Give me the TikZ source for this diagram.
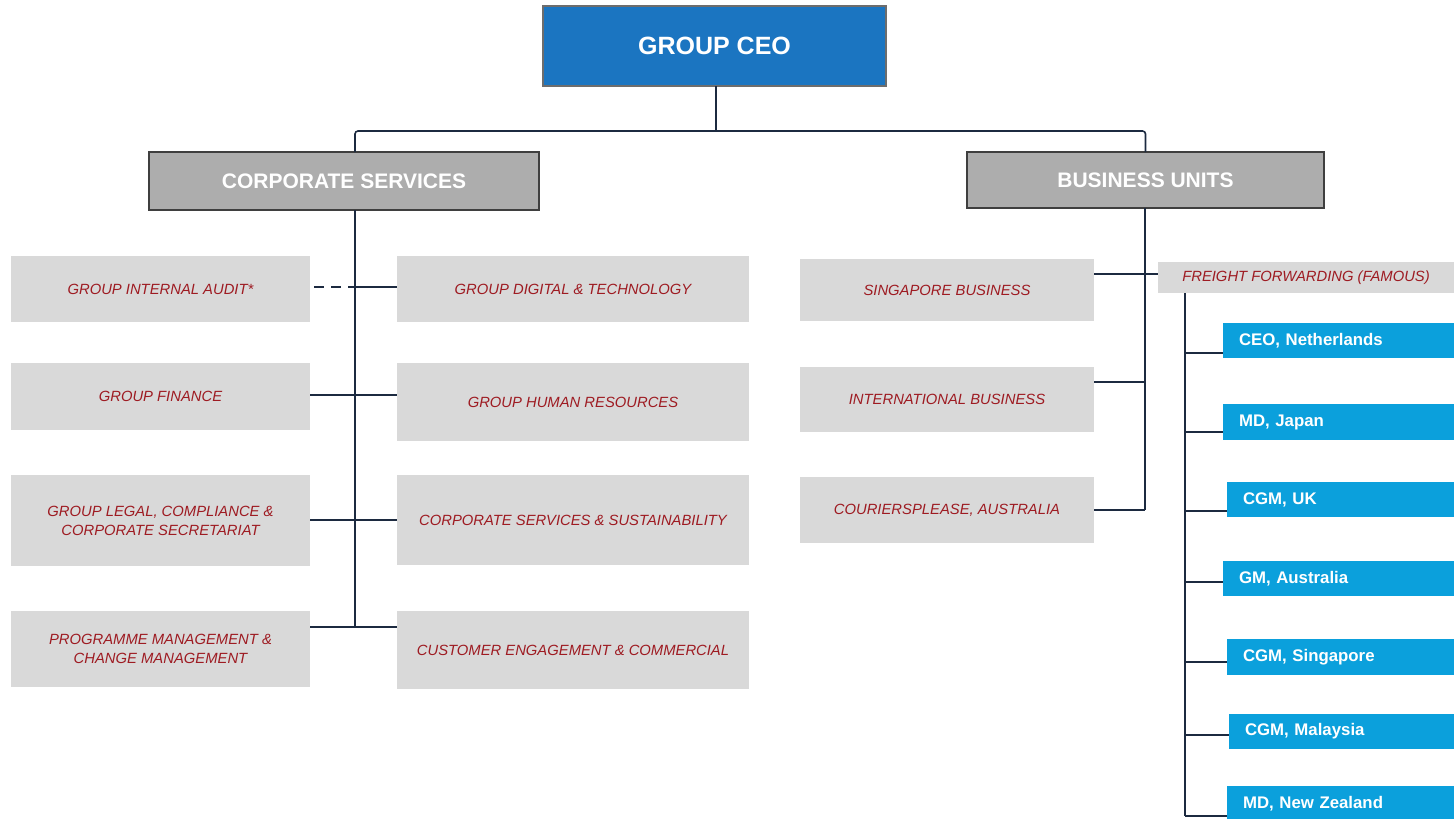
\documentclass[tikz,border=0pt]{standalone}
\usepackage{fontspec}
\setmainfont{Liberation Sans}
\definecolor{ceoblue}{HTML}{1B75C1}
\definecolor{ceoborder}{HTML}{6D6D6D}
\definecolor{headgray}{HTML}{ADADAD}
\definecolor{headborder}{HTML}{3F3F3F}
\definecolor{subgray}{HTML}{D9D9D9}
\definecolor{subred}{HTML}{9E1B22}
\definecolor{leafblue}{HTML}{0BA0DC}
\definecolor{linecol}{HTML}{1C2A40}
\begin{document}
\begin{tikzpicture}[x=1pt,y=-1pt,
  box/.style={inner sep=0pt, outer sep=0pt, align=center},
  ceobox/.style={box, fill=ceoblue, draw=ceoborder, line width=1.3pt, text=white, font=\fontsize{25}{28}\selectfont\bfseries},
  head/.style={box, fill=headgray, draw=headborder, line width=1.3pt, text=white, font=\fontsize{21}{24}\selectfont\bfseries},
  sub/.style={box, fill=subgray, text=subred, font=\fontsize{14.8}{19}\selectfont\itshape},
  leaf/.style={box, fill=leafblue, text=white, inner xsep=16pt, align=left, font=\fontsize{16.8}{19}\selectfont\bfseries},
  link/.style={draw=linecol, line width=1.6pt},
  dashlink/.style={draw=linecol, line width=1.6pt, dash pattern=on 10pt off 7pt}
]
\useasboundingbox (0,0) rectangle (1454,819);

% top levels
\node[ceobox, minimum width=343pt, minimum height=80pt] (ceo) at (714.5,46) {GROUP CEO};
\node[head, minimum width=390pt, minimum height=58pt] (cs) at (344,181) {CORPORATE SERVICES};
\node[head, minimum width=357pt, minimum height=56pt] (bu) at (1145.5,180) {BUSINESS UNITS};

% corporate services, left column
\node[sub, minimum width=299pt, minimum height=66pt] (audit) at (160.5,289) {GROUP INTERNAL AUDIT*};
\node[sub, minimum width=299pt, minimum height=67pt] (fin) at (160.5,396.5) {GROUP FINANCE};
\node[sub, minimum width=299pt, minimum height=91pt] (legal) at (160.5,520.5) {GROUP LEGAL, COMPLIANCE \&\\CORPORATE SECRETARIAT};
\node[sub, minimum width=299pt, minimum height=76pt] (prog) at (160.5,649) {PROGRAMME MANAGEMENT \&\\CHANGE MANAGEMENT};

% corporate services, right column
\node[sub, minimum width=352pt, minimum height=66pt] (dig) at (573,289) {GROUP DIGITAL \& TECHNOLOGY};
\node[sub, minimum width=352pt, minimum height=78pt] (hr) at (573,402) {GROUP HUMAN RESOURCES};
\node[sub, minimum width=352pt, minimum height=90pt] (css) at (573,520) {CORPORATE SERVICES \& SUSTAINABILITY};
\node[sub, minimum width=352pt, minimum height=78pt] (cust) at (573,650) {CUSTOMER ENGAGEMENT \& COMMERCIAL};

% business units
\node[sub, minimum width=294pt, minimum height=62pt] (sing) at (947,290) {SINGAPORE BUSINESS};
\node[sub, minimum width=294pt, minimum height=65pt] (intl) at (947,399.5) {INTERNATIONAL BUSINESS};
\node[sub, minimum width=294pt, minimum height=66pt] (cour) at (947,510) {COURIERSPLEASE, AUSTRALIA};
\node[sub, minimum width=296pt, minimum height=31pt] (ff) at (1306,277.5) {FREIGHT FORWARDING (FAMOUS)};

% freight forwarding leaves
\node[leaf, text width=205pt, minimum height=35pt] (nl) at (1341.5,340.5) {CEO, Netherlands};
\node[leaf, text width=205pt, minimum height=36pt] (jp) at (1341.5,422) {MD, Japan};
\node[leaf, text width=201pt, minimum height=35pt] (uk) at (1343.5,499.5) {CGM, UK};
\node[leaf, text width=205pt, minimum height=35pt] (au) at (1341.5,578.5) {GM, Australia};
\node[leaf, text width=201pt, minimum height=36pt] (sg) at (1343.5,657) {CGM, Singapore};
\node[leaf, text width=199pt, minimum height=35pt] (my) at (1344.5,731.5) {CGM, Malaysia};
\node[leaf, text width=201pt, minimum height=36pt] (nz) at (1343.5,804) {MD, New Zealand};

% helper coordinates
\coordinate (bus) at (716,131);
\coordinate (csx) at (355,627);
\coordinate (bux) at (1145,510);
\coordinate (ffx) at (1185,816);
\coordinate (yA) at (0,287);
\coordinate (yB) at (0,395);
\coordinate (yC) at (0,520);
\coordinate (yS) at (0,274);
\coordinate (yI) at (0,382);
\coordinate (audE) at ([xshift=4pt]audit.east);

% top connectors
\draw[link] (bus |- ceo.south) -- (bus);
\draw[link, rounded corners=3pt] (csx |- cs.north) -- (csx |- bus) -- (bu.north |- bus) -- (bu.north);

% corporate services
\draw[link] (csx |- cs.south) -- (csx);
\draw[dashlink] (audE |- yA) -- (csx |- yA);
\draw[link] (csx |- yA) -- (dig.west |- yA);
\draw[link] (fin.east |- yB) -- (hr.west |- yB);
\draw[link] (legal.east |- yC) -- (css.west |- yC);
\draw[link] (prog.east |- csx) -- (cust.west |- csx);

% business units
\draw[link] (bux |- bu.south) -- (bux);
\draw[link] (sing.east |- yS) -- (ff.west |- yS);
\draw[link] (intl.east |- yI) -- (bux |- yI);
\draw[link] (cour.east |- bux) -- (bux);

% freight forwarding
\draw[link] (ffx |- ff.south) -- (ffx);
\draw[link] (ffx |- 0,353) -- (nl.west |- 0,353);
\draw[link] (ffx |- 0,432) -- (jp.west |- 0,432);
\draw[link] (ffx |- 0,511) -- (uk.west |- 0,511);
\draw[link] (ffx |- 0,582) -- (au.west |- 0,582);
\draw[link] (ffx |- 0,662) -- (sg.west |- 0,662);
\draw[link] (ffx |- 0,735) -- (my.west |- 0,735);
\draw[link] (ffx) -- (nz.west |- ffx);
\end{tikzpicture}
\end{document}
